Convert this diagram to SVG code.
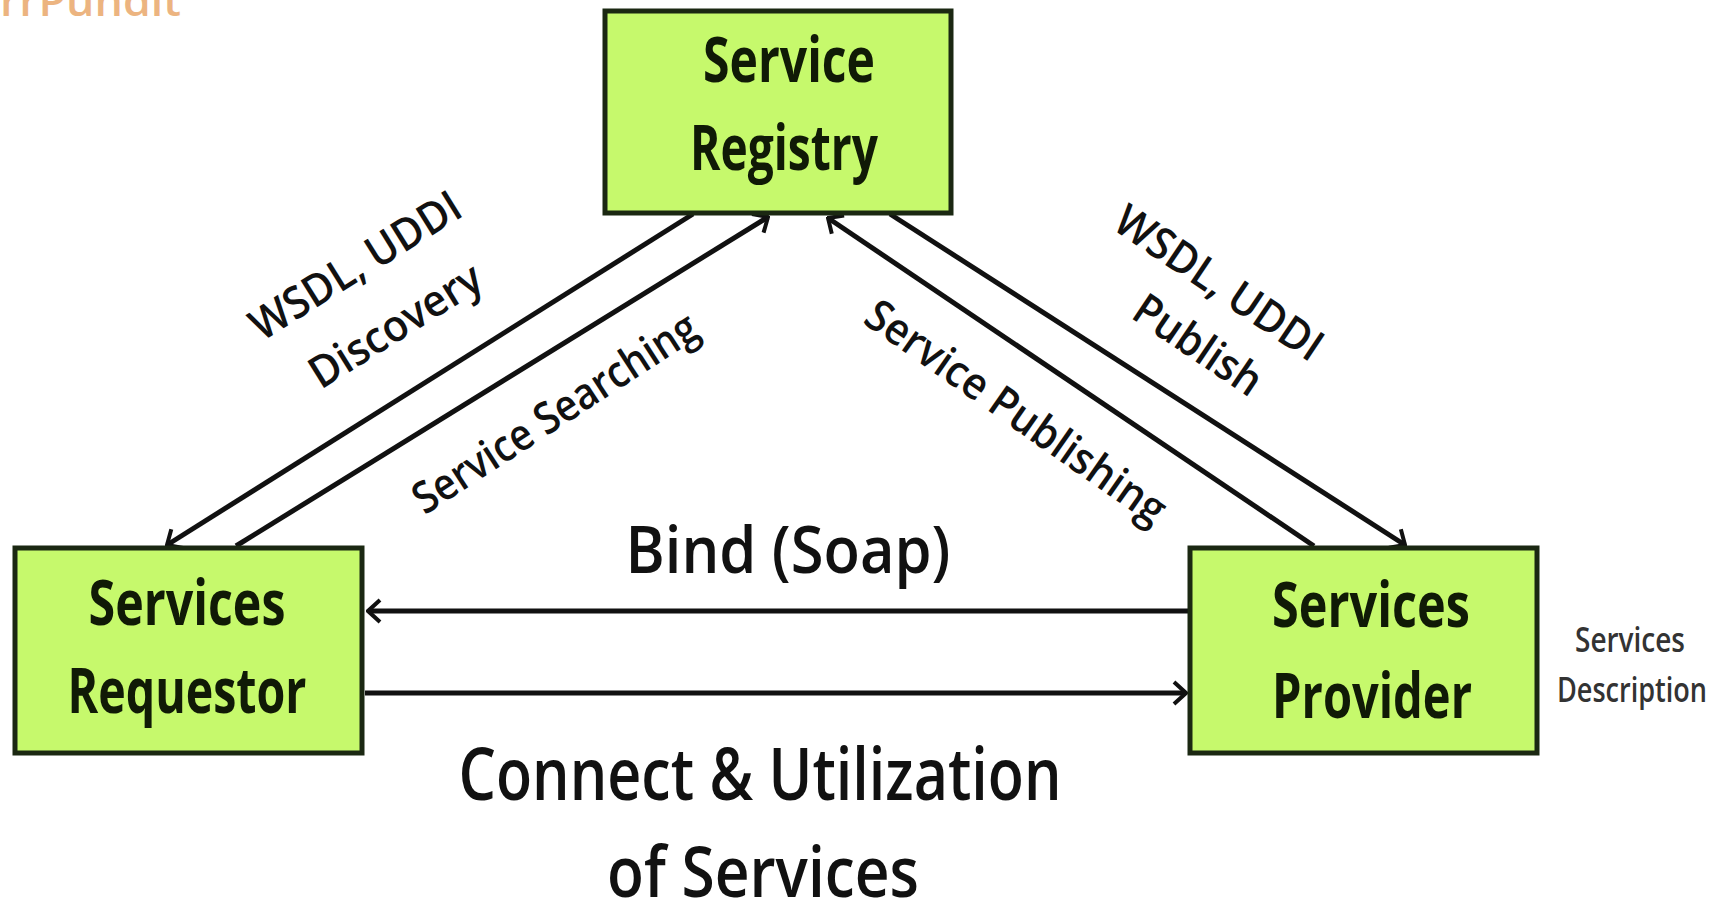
<svg xmlns="http://www.w3.org/2000/svg" width="1720" height="913" viewBox="0 0 1720 913">
<style>
.box{fill:#c6f96c;stroke:#1b2812;stroke-width:5}
.bt{font-family:"Open Sans","Liberation Sans",sans-serif;font-weight:700;font-size:62px;fill:#101a06;text-anchor:middle}
.lbl{font-family:"Open Sans","Liberation Sans",sans-serif;font-weight:600;font-size:44px;fill:#111;text-anchor:middle}
.big{font-family:"Open Sans","Liberation Sans",sans-serif;font-weight:600;fill:#111;text-anchor:middle}
.small{font-family:"Open Sans","Liberation Sans",sans-serif;font-weight:600;font-size:34px;fill:#333;text-anchor:middle}
.ln{stroke:#111;stroke-width:5;fill:none}
</style>
<defs>
<marker id="ah" viewBox="0 0 16 26" refX="14" refY="13" markerWidth="16" markerHeight="26" markerUnits="userSpaceOnUse" orient="auto">
<path d="M2,2 L14,13 L2,24" fill="none" stroke="#111" stroke-width="4"/>
</marker>
</defs>
<text x="0" y="16" font-family="Open Sans, Liberation Sans, sans-serif" font-weight="600" font-size="42" fill="#e9a86a" opacity="0.85" textLength="181" lengthAdjust="spacingAndGlyphs">rrPundit</text>
<g id="connectors">
<line class="ln" x1="693" y1="214" x2="167" y2="545" marker-end="url(#ah)"/>
<line class="ln" x1="236" y1="546" x2="768" y2="217" marker-end="url(#ah)"/>
<line class="ln" x1="1314" y1="546" x2="828" y2="218" marker-end="url(#ah)"/>
<line class="ln" x1="890" y1="214" x2="1405" y2="545" marker-end="url(#ah)"/>
<line class="ln" x1="1188" y1="611" x2="368" y2="611" marker-end="url(#ah)"/>
<line class="ln" x1="365" y1="693" x2="1186" y2="693" marker-end="url(#ah)"/>
<g transform="translate(372,292) rotate(-32)"><text class="lbl" x="0" y="-16" textLength="240" lengthAdjust="spacingAndGlyphs">WSDL, UDDI</text><text class="lbl" x="2" y="56" textLength="195" lengthAdjust="spacingAndGlyphs">Discovery</text></g>
<g transform="translate(555,413) rotate(-33)"><text class="lbl" x="0" y="15" textLength="330" lengthAdjust="spacingAndGlyphs">Service  Searching</text></g>
<g transform="translate(1016,412) rotate(35)"><text class="lbl" x="0" y="15" textLength="356" lengthAdjust="spacingAndGlyphs">Service Publishing</text></g>
<g transform="translate(1219,283) rotate(34)"><text class="lbl" x="0" y="15" textLength="241" lengthAdjust="spacingAndGlyphs">WSDL, UDDI</text></g>
<g transform="translate(1198,345) rotate(34)"><text class="lbl" x="0" y="15" textLength="145" lengthAdjust="spacingAndGlyphs">Publish</text></g>
<text class="big" x="788" y="573" font-size="66" textLength="325" lengthAdjust="spacingAndGlyphs">Bind (Soap)</text>
<text class="big" x="760" y="800" font-size="72" textLength="603" lengthAdjust="spacingAndGlyphs">Connect &amp; Utilization</text>
<text class="big" x="763" y="897" font-size="70" textLength="312" lengthAdjust="spacingAndGlyphs">of Services</text>
</g>
<g id="registry">
<rect class="box" x="605" y="11" width="346" height="202"/>
<text class="bt" x="789" y="82" textLength="172" lengthAdjust="spacingAndGlyphs">Service</text>
<text class="bt" x="784" y="170" textLength="188" lengthAdjust="spacingAndGlyphs">Registry</text>
</g>
<g id="requestor">
<rect class="box" x="15" y="548" width="347" height="205"/>
<text class="bt" x="187" y="625" textLength="197" lengthAdjust="spacingAndGlyphs">Services</text>
<text class="bt" x="187" y="713" textLength="239" lengthAdjust="spacingAndGlyphs">Requestor</text>
</g>
<g id="provider">
<rect class="box" x="1190" y="548" width="347" height="205"/>
<text class="bt" x="1371" y="627" textLength="198" lengthAdjust="spacingAndGlyphs">Services</text>
<text class="bt" x="1372" y="718" textLength="200" lengthAdjust="spacingAndGlyphs">Provider</text>
</g>
<g id="description">
<text class="small" x="1630" y="652" textLength="110" lengthAdjust="spacingAndGlyphs">Services</text>
<text class="small" x="1632" y="702" textLength="150" lengthAdjust="spacingAndGlyphs">Description</text>
</g>
</svg>
